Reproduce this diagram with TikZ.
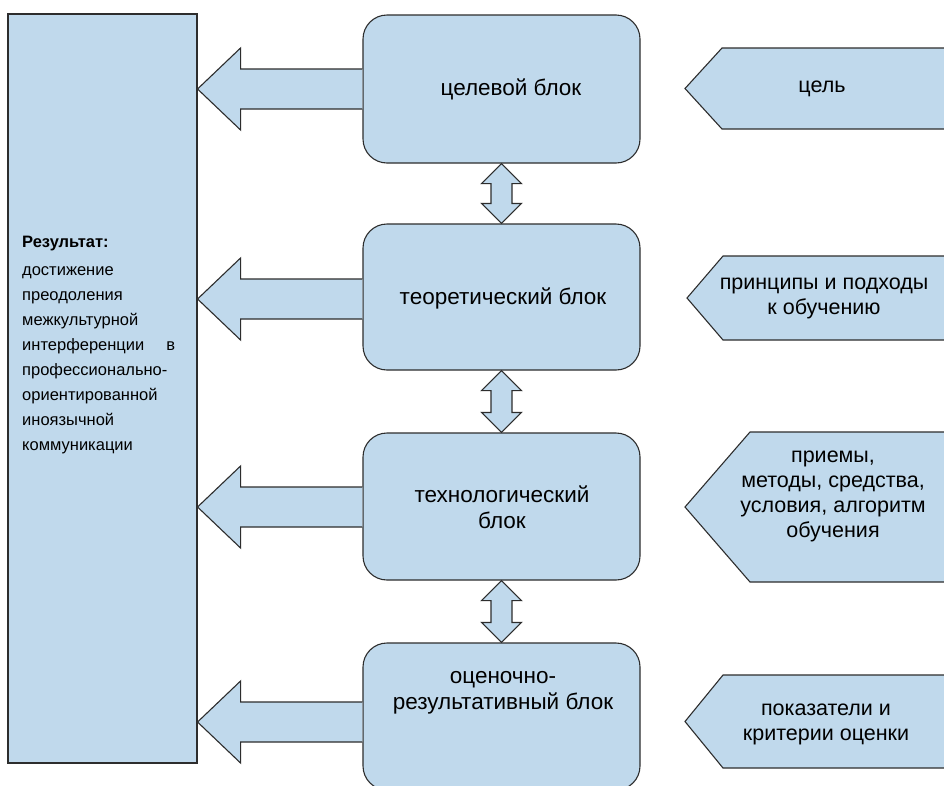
\documentclass[tikz,border=0pt]{standalone}
\usepackage{fontspec}
\setmainfont{Liberation Sans}
\usetikzlibrary{calc}
\definecolor{fillblue}{RGB}{192,217,236}
\definecolor{edgecol}{RGB}{45,45,45}
\begin{document}
\begin{tikzpicture}[x=1pt,y=-1pt,
  shapebox/.style={draw=edgecol, fill=fillblue, line width=1.1pt, line join=miter},
  blk/.style={shapebox, rounded corners=24pt, minimum width=277pt, inner sep=0pt},
  txt/.style={font=\fontsize{22.5}{26}\selectfont, align=center, inner sep=0pt},
  tagtxt/.style={font=\fontsize{21.5}{25}\selectfont, align=center, inner sep=0pt},
  ltxt/.style={font=\fontsize{16.5}{25}\selectfont, align=left, text width=153pt, inner sep=0pt}]
\clip (0,0) rectangle (944,785);
\fill[white] (0,0) rectangle (944,785);

% result box
\node[shapebox, minimum width=189pt, minimum height=749pt, inner sep=0pt] (res) at (102.5,388.5) {};
\node[ltxt, anchor=north west] (restext) at (22,236) {\textbf{Результат:}\\[3pt]
достижение\\
преодоления\\
межкультурной\\
интерференции\hfill в\\
профессионально-\\
ориентированной\\
иноязычной\\
коммуникации};

% blocks
\node[blk, minimum height=148pt] (b1) at (501.5,89) {};
\node[blk, minimum height=146pt] (b2) at (501.5,297) {};
\node[blk, minimum height=147pt] (b3) at (501.5,506.5) {};
\node[blk, minimum height=147pt] (b4) at (501.5,716.5) {};

\node[txt] (t1) at (511,89) {целевой блок};
\node[txt] (t2) at (503,298) {теоретический блок};
\node[txt] (t3) at (502,507) {технологический\\блок};
\node[txt] (t4) at (503,693) {оценочно-\\результативный блок};

% left block arrows
\foreach \b/\y in {b1/89, b2/299, b3/507, b4/722}{
  \coordinate (s) at (\b.west |- 0,\y);
  \coordinate (e) at (res.east |- 0,\y);
  \draw[shapebox] ($(s)+(0,-20)$) -- ($(e)+(43,-20)$) -- ($(e)+(43,-41)$) -- (e)
     -- ($(e)+(43,41)$) -- ($(e)+(43,20)$) -- ($(s)+(0,20)$);
}

% double arrows between blocks
\foreach \u/\d in {b1/b2, b2/b3, b3/b4}{
  \draw[shapebox] (\u.south) -- ++(20,20) -- ++(-9.5,0) -- ($(\d.north)+(10.5,-20)$)
    -- ++(9.5,0) -- (\d.north) -- ++(-20,-20) -- ++(9.5,0) -- ($(\u.south)+(-10.5,20)$)
    -- ++(-9.5,0) -- cycle;
}

% right tags
\foreach \t/\bo/\c/\tipx in {48/129/722/685, 256/340/723/687, 432/582/750/685, 675/768/723/685}{
  \draw[shapebox] (\tipx,{(\t+\bo)/2}) -- (\c,\t) -- (970,\t) -- (970,\bo) -- (\c,\bo) -- cycle;
}
\node[tagtxt] (r1) at (822,89) {цель};
\node[tagtxt] (r2) at (824,298) {принципы и подходы\\к обучению};
\node[tagtxt] (r3) at (833,496) {приемы,\\методы, средства,\\условия, алгоритм\\обучения};
\node[tagtxt] (r4) at (826,724) {показатели и\\критерии оценки};
\end{tikzpicture}
\end{document}
